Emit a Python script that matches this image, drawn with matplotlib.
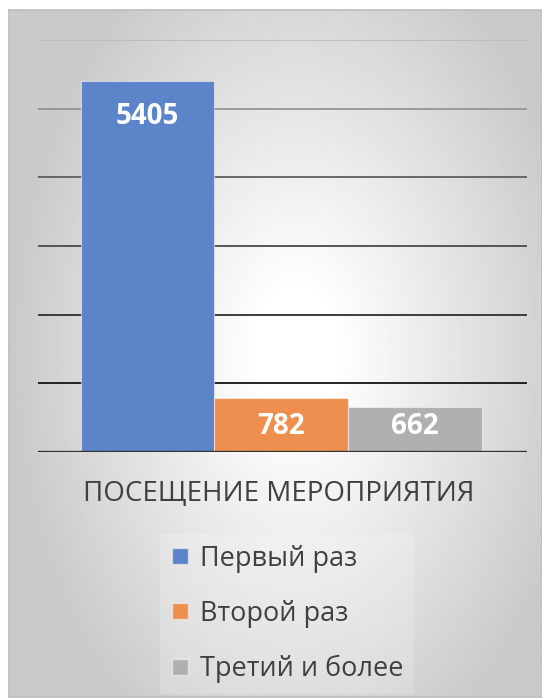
import numpy as np
import matplotlib.pyplot as plt
from matplotlib.lines import Line2D

plt.rcParams['font.family'] = ['Open Sans', 'DejaVu Sans']

CATEGORIES = ['Первый раз', 'Второй раз', 'Третий и более']
VALUES = [5405, 782, 662]
COLORS = ['#5b84c9', '#ef8f4f', '#b0b0b0']
AXIS_TITLE = 'ПОСЕЩЕНИЕ МЕРОПРИЯТИЯ'
GRID_TICKS = [1000, 2000, 3000, 4000, 5000, 6000]
GRID_COLORS = ['#141414', '#2e2e2e', '#4a4a4a', '#5e5e5e', '#959595', '#bcbcbc']
LABEL_PAD = [15, 10, 4]  # points below bar top


fig = plt.figure(figsize=(5.42, 7.0), dpi=100)

# background with soft radial gradient, white near the middle
bg = fig.add_axes([9 / 542, 3 / 700, 533 / 542, 687 / 700], zorder=-2)
yy, xx = np.mgrid[0:1:400j, 0:1:400j]
r = np.sqrt(((xx - 0.54) / 0.5) ** 2 + ((yy - 0.5) / 0.6) ** 2)
shade = np.clip(264 - 58 * r, 202, 255)
bg.imshow(shade, cmap='gray', vmin=0, vmax=255, aspect='auto',
          extent=[0, 1, 0, 1], origin='upper')
bg.set_xticks([])
bg.set_yticks([])
for s in bg.spines.values():
    s.set_color('#bdbdbd')
    s.set_linewidth(1.2)

ax = fig.add_axes([38 / 542, 1 - 452 / 700, 489 / 542, 412 / 700])
ax.set_facecolor('none')
for s in ax.spines.values():
    s.set_visible(False)

# gridlines
for tick, col in zip(GRID_TICKS, GRID_COLORS):
    ax.axhline(tick, color=col, lw=1.3, zorder=0)
ax.axhline(0, color='#333333', lw=2.4, zorder=3)

positions = np.arange(len(VALUES)) - 1
bars = ax.bar(positions, VALUES, width=1.0, color=COLORS,
              edgecolor=(1, 1, 1, 0.5), lw=0.8, zorder=2)

for b, v, pad in zip(bars, VALUES, LABEL_PAD):
    ax.annotate(str(v), (b.get_x() + b.get_width() / 2, v),
                xytext=(0, -pad), textcoords='offset points',
                ha='center', va='top', color='white',
                fontsize=20, fontweight='bold', zorder=4)

ax.set_xlim(-1.82, 1.84)
ax.set_ylim(0, 6000)
ax.set_xticks([])
ax.set_yticks([])

fig.text(279 / 542, 1 - 494 / 700, AXIS_TITLE, ha='center', va='center',
         fontsize=20, color='#404040')

handles = [Line2D([], [], marker='s', ls='none', markersize=11.5,
                  markerfacecolor=c, markeredgecolor=(1, 1, 1, 0.5))
           for c in COLORS]
leg = fig.legend(handles, CATEGORIES, loc='center',
                 bbox_to_anchor=(287 / 542, 1 - 614 / 700),
                 fontsize=19.5, labelspacing=1.0, handlelength=0.7,
                 handletextpad=0.4, frameon=True, fancybox=False,
                 borderpad=0.4)
leg.get_frame().set_facecolor('#ffffff')
leg.get_frame().set_edgecolor('none')
leg.get_frame().set_alpha(0.18)
for t in leg.get_texts():
    t.set_color('#404040')

fig.savefig('out.png', dpi=100)
